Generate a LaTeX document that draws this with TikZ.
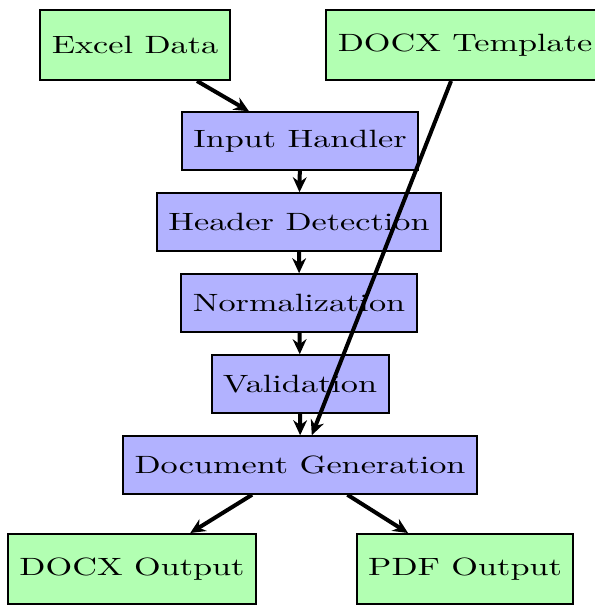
\documentclass[tikz,border=0pt]{standalone}
\usetikzlibrary{arrows.meta}

\tikzset{
  source/.style={draw, thick, fill=green!30, minimum height=28pt},
  stage/.style={draw, thick, fill=blue!30, minimum height=23pt},
  flow/.style={-{Stealth[length=6pt, width=5.5pt]}, line width=1.6pt},
}

\begin{document}
\begin{tikzpicture}[x=0.292pt, y=-0.4pt, xscale=1.37, transform shape]
			\useasboundingbox (0,0) rectangle (594,607);

			% Draw the input boxes
			\node[source] (excel) at (135,45) {Excel Data};
			\node[source] (template) at (465,45) {DOCX Template};

			% Draw the processing stages
			\node[stage] (input) at (300,141) {Input Handler};
			\node[stage] (header) at (299,222) {Header Detection};
			\node[stage] (norm) at (299,303) {Normalization};
			\node[stage] (valid) at (300,384) {Validation};
			\node[stage] (docgen) at (300,465) {Document Generation};

			% Draw the output boxes
			\node[source] (docxout) at (132,569) {DOCX Output};
			\node[source] (pdfout) at (465,569) {PDF Output};

			% Draw the arrows between the boxes
			\draw[flow] (excel) -- (input);
			\draw[flow] (input) -- (header);
			\draw[flow] (header) -- (norm);
			\draw[flow] (norm) -- (valid);
			\draw[flow] (valid) -- (docgen);
			\draw[flow] (template) -- (docgen);
			\draw[flow] (docgen) -- (docxout);
			\draw[flow] (docgen) -- (pdfout);

		\end{tikzpicture}
\end{document}
